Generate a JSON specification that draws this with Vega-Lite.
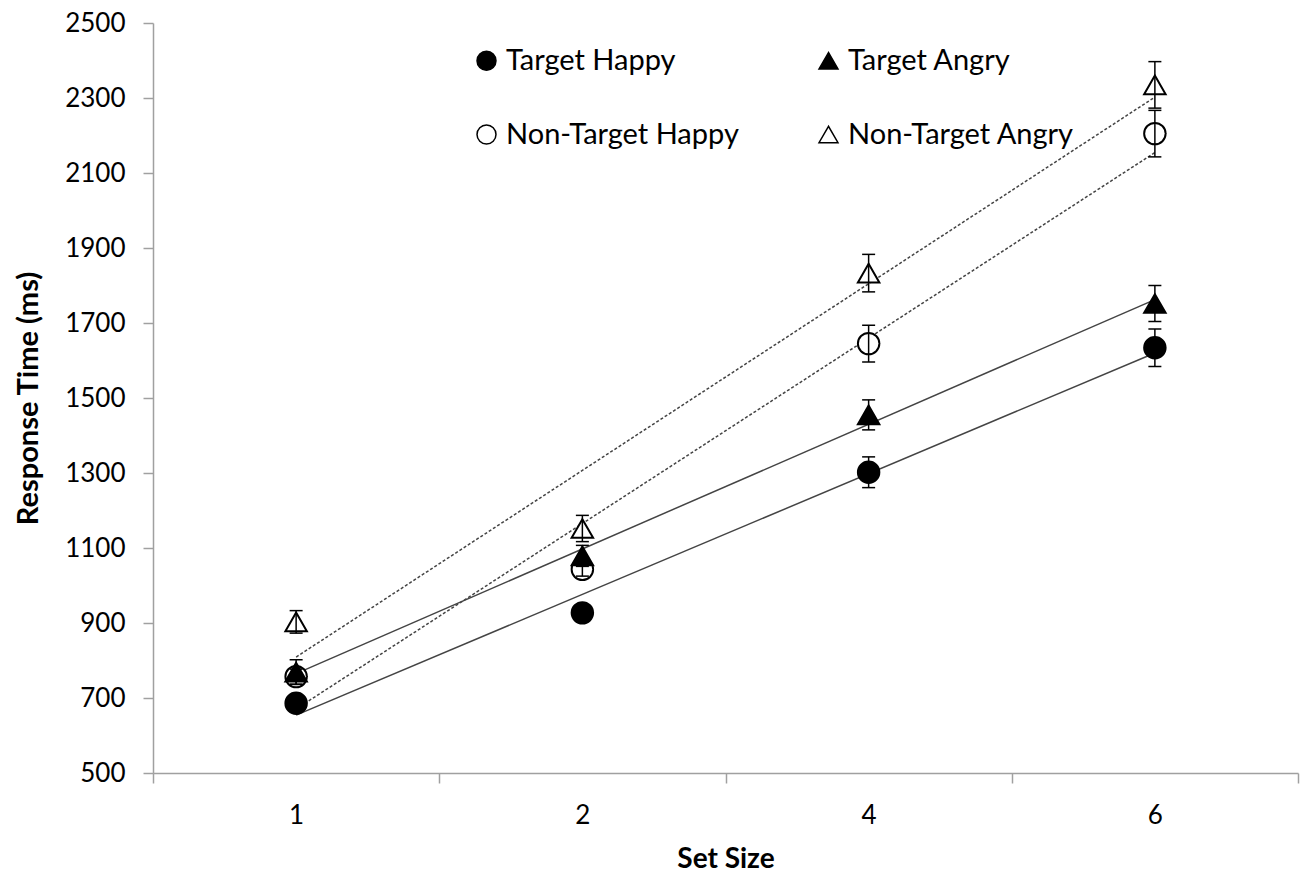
{
  "$schema": "https://vega.github.io/schema/vega-lite/v6.json",
  "width": 1145,
  "height": 750,
  "autosize": "none",
  "padding": {"left": 153, "top": 23, "right": 6, "bottom": 102},
  "background": "white",
  "config": {
    "view": {"stroke": null},
    "font": "Lato",
    "axis": {
      "grid": false,
      "domainColor": "#a0a0a0",
      "domainWidth": 1.5,
      "tickColor": "#a0a0a0",
      "tickWidth": 1.5,
      "tickSize": 10,
      "labelColor": "#000000",
      "labelFont": "Lato",
      "labelFontSize": 26,
      "titleColor": "#000000",
      "titleFont": "Lato",
      "titleFontSize": 29,
      "titleFontWeight": "bold"
    }
  },
  "data": {
    "values": [
      {"series": "Non-Target Happy", "setSize": 1, "rt": 757, "lo": 737, "hi": 777},
      {"series": "Non-Target Happy", "setSize": 2, "rt": 1043, "lo": 1025, "hi": 1061},
      {"series": "Non-Target Happy", "setSize": 4, "rt": 1645, "lo": 1596, "hi": 1694},
      {"series": "Non-Target Happy", "setSize": 6, "rt": 2205, "lo": 2143, "hi": 2267},
      {"series": "Non-Target Angry", "setSize": 1, "rt": 903, "lo": 873, "hi": 933},
      {"series": "Non-Target Angry", "setSize": 2, "rt": 1152, "lo": 1117, "hi": 1187},
      {"series": "Non-Target Angry", "setSize": 4, "rt": 1833, "lo": 1783, "hi": 1883},
      {"series": "Non-Target Angry", "setSize": 6, "rt": 2335, "lo": 2273, "hi": 2397},
      {"series": "Target Happy", "setSize": 1, "rt": 686, "lo": 672, "hi": 700},
      {"series": "Target Happy", "setSize": 2, "rt": 927, "lo": 913, "hi": 941},
      {"series": "Target Happy", "setSize": 4, "rt": 1302, "lo": 1261, "hi": 1343},
      {"series": "Target Happy", "setSize": 6, "rt": 1634, "lo": 1584, "hi": 1684},
      {"series": "Target Angry", "setSize": 1, "rt": 769, "lo": 736, "hi": 802},
      {"series": "Target Angry", "setSize": 2, "rt": 1079, "lo": 1051, "hi": 1107},
      {"series": "Target Angry", "setSize": 4, "rt": 1455, "lo": 1415, "hi": 1495},
      {"series": "Target Angry", "setSize": 6, "rt": 1752, "lo": 1704, "hi": 1800}
    ]
  },
  "transform": [
    {
      "window": [{"op": "rank", "as": "rank"}],
      "sort": [{"field": "setSize", "order": "ascending"}],
      "groupby": ["series"]
    }
  ],
  "encoding": {
    "x": {
      "field": "rank",
      "type": "quantitative",
      "scale": {"domain": [0.5, 4.5], "nice": false, "zero": false},
      "axis": {
        "title": "Set Size",
        "titleFontSize": 28,
        "values": [0.5, 1, 1.5, 2, 2.5, 3, 3.5, 4, 4.5],
        "labelExpr": "datum.value == 1 ? '1' : datum.value == 2 ? '2' : datum.value == 3 ? '4' : datum.value == 4 ? '6' : ''",
        "tickOpacity": {"expr": "datum.value % 1 === 0 ? 0 : 1"},
        "labelPadding": 19,
        "titlePadding": 17,
        "labelFlush": false
      }
    }
  },
  "layer": [
    {
      "transform": [
        {"filter": "indexof(datum.series, 'Non-Target') < 0"},
        {"regression": "rt", "on": "rank", "groupby": ["series"]}
      ],
      "mark": {"type": "line", "color": "#444444", "strokeWidth": 1.5},
      "encoding": {
        "y": {
          "field": "rt",
          "type": "quantitative",
          "scale": {"domain": [500, 2500], "nice": false, "zero": false},
          "axis": {
            "title": "Response Time (ms)",
            "format": "d",
            "values": [500, 700, 900, 1100, 1300, 1500, 1700, 1900, 2100, 2300, 2500],
            "labelPadding": 18,
            "titlePadding": 21
          }
        },
        "detail": {"field": "series"}
      }
    },
    {
      "transform": [
        {"filter": "indexof(datum.series, 'Non-Target') >= 0"},
        {"regression": "rt", "on": "rank", "groupby": ["series"]}
      ],
      "mark": {"type": "line", "color": "#444444", "strokeWidth": 1.5, "strokeDash": [3, 2]},
      "encoding": {
        "y": {"field": "rt", "type": "quantitative"},
        "detail": {"field": "series"}
      }
    },
    {
      "mark": {"type": "point", "stroke": "black", "strokeWidth": 2, "size": 460, "opacity": 1},
      "encoding": {
        "y": {"field": "rt", "type": "quantitative"},
        "shape": {
          "field": "series",
          "type": "nominal",
          "scale": {
            "domain": ["Target Happy", "Target Angry", "Non-Target Happy", "Non-Target Angry"],
            "range": ["circle", "triangle-up", "circle", "triangle-up"]
          },
          "legend": {
            "title": null,
            "orient": "none",
            "legendX": 319,
            "legendY": 23,
            "direction": "horizontal",
            "columns": 2,
            "columnPadding": 75,
            "rowPadding": 44,
            "symbolSize": 360,
            "labelFont": "Lato",
            "labelFontSize": 29,
            "labelColor": "#000000",
            "labelOffset": 5,
            "labelLimit": 400,
            "encode": {"symbols": {"update": {"stroke": {"value": "black"}, "strokeWidth": {"value": 1.5}}}}
          }
        },
        "fill": {
          "field": "series",
          "type": "nominal",
          "scale": {
            "domain": ["Target Happy", "Target Angry", "Non-Target Happy", "Non-Target Angry"],
            "range": ["black", "black", "white", "white"]
          },
          "legend": {
            "title": null,
            "orient": "none",
            "legendX": 319,
            "legendY": 23,
            "direction": "horizontal",
            "columns": 2,
            "columnPadding": 75,
            "rowPadding": 44,
            "symbolSize": 360,
            "labelFont": "Lato",
            "labelFontSize": 29,
            "labelColor": "#000000",
            "labelOffset": 5,
            "labelLimit": 400,
            "encode": {"symbols": {"update": {"stroke": {"value": "black"}, "strokeWidth": {"value": 1.5}}}}
          }
        }
      }
    },
    {
      "mark": {"type": "rule", "color": "black", "strokeWidth": 1.5},
      "encoding": {
        "y": {"field": "lo", "type": "quantitative"},
        "y2": {"field": "hi"}
      }
    },
    {
      "mark": {"type": "tick", "orient": "horizontal", "color": "black", "size": 13, "thickness": 1.5, "opacity": 1},
      "encoding": {
        "y": {"field": "lo", "type": "quantitative"}
      }
    },
    {
      "mark": {"type": "tick", "orient": "horizontal", "color": "black", "size": 13, "thickness": 1.5, "opacity": 1},
      "encoding": {
        "y": {"field": "hi", "type": "quantitative"}
      }
    }
  ]
}
